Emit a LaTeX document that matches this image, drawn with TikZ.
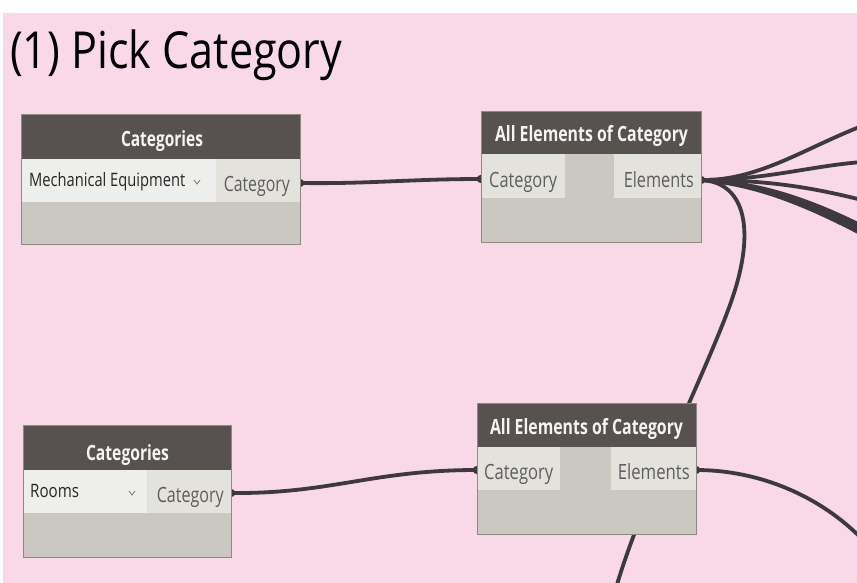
\documentclass[tikz,border=0pt]{standalone}
\usepackage{fontspec}
\setmainfont{Open Sans}
\usetikzlibrary{calc}

\definecolor{canvas}{HTML}{F9D8E8}
\definecolor{hdrfill}{HTML}{57524F}
\definecolor{bodyfill}{HTML}{CBC8C1}
\definecolor{dropfill}{HTML}{EEEEEC}
\definecolor{portfill}{HTML}{E4E2DC}
\definecolor{porttext}{HTML}{5E5E5E}
\definecolor{edgec}{HTML}{8E8984}
\definecolor{wirec}{HTML}{3D393C}
\definecolor{hdrtext}{HTML}{F4F4F2}

% stretch or squeeze a text to a given width, keeping its height
\newcommand\fitw[2]{\resizebox{#1}{\height}{#2}}

\pgfdeclarelayer{back}
\pgfdeclarelayer{wirelayer}
\pgfsetlayers{back,wirelayer,main}

\tikzset{
  part/.style={inner sep=0pt, outer sep=0pt, anchor=north west, draw=none},
  body/.style={part, fill=bodyfill},
  header/.style={part, fill=hdrfill},
  dropbox/.style={part, fill=dropfill},
  portbox/.style={part, fill=portfill},
  hdrlabel/.style={inner sep=0pt, anchor=base, text=hdrtext, font=\fontsize{21}{24}\selectfont\bfseries},
  droplabel/.style={inner sep=0pt, anchor=base west, text=black!85, font=\fontsize{18.5}{22}\selectfont},
  portlabel/.style={inner sep=0pt, text=porttext, font=\fontsize{21}{24}\selectfont},
  wire/.style={draw=wirec, line width=3.8pt, line cap=round},
  nub/.style={fill=wirec},
  chevron/.style={draw=black!55, line width=0.8pt},
  outline/.style={draw=edgec, line width=0.8pt}
}

\begin{document}
\begin{tikzpicture}[x=1pt, y=-1pt]
\useasboundingbox (0,0) rectangle (857,583);

\begin{pgfonlayer}{back}
  \fill[white] (0,0) rectangle (857,583);
  \fill[canvas] (3,13) rectangle (857,583);
\end{pgfonlayer}

% title
\node[inner sep=0pt, anchor=base west, font=\fontsize{51}{60}\selectfont] (title) at (10,69)
  {\fitw{332pt}{(1) Pick Category}};

% ---- Categories (Mechanical Equipment)
\node[body, minimum width=279pt, minimum height=130pt] (cat1) at (21,114) {};
\node[header, minimum width=279pt, minimum height=45pt] (cat1h) at (21,114) {};
\node[dropbox, minimum width=195pt, minimum height=43pt] (cat1d) at (21,159) {};
\node[portbox, minimum width=84pt, minimum height=43pt] (cat1p) at (216,159) {};
\draw[outline] (cat1.north west) rectangle (cat1.south east);
\draw[draw=black!12, line width=0.5pt] (cat1d.north east) -- (cat1d.south east);
\node[hdrlabel] (cat1t) at (162,147) {\fitw{82pt}{Categories}};
\node[droplabel] (cat1v) at (29,186) {\fitw{156pt}{Mechanical Equipment}};
\draw[chevron] (194,180) -- (197,184) -- (200,180);
\node[portlabel, anchor=base east] (cat1pl) at (290,192) {\fitw{66pt}{Category}};

% ---- All Elements of Category (upper)
\node[body, minimum width=220pt, minimum height=131pt] (aec1) at (481,111) {};
\node[header, minimum width=220pt, minimum height=43pt] (aec1h) at (481,111) {};
\node[portbox, minimum width=84pt, minimum height=44pt] (aec1c) at (481,154) {};
\node[portbox, minimum width=87pt, minimum height=44pt] (aec1e) at (614,154) {};
\draw[outline] (aec1.north west) rectangle (aec1.south east);
\node[hdrlabel] (aec1t) at (591.5,142) {\fitw{193pt}{All Elements of Category}};
\node[portlabel, anchor=base west] (aec1cl) at (489,187) {\fitw{68pt}{Category}};
\node[portlabel, anchor=base east] (aec1el) at (694,187) {\fitw{70pt}{Elements}};

% ---- Categories (Rooms)
\node[body, minimum width=208pt, minimum height=132pt] (cat2) at (23,425) {};
\node[header, minimum width=208pt, minimum height=45pt] (cat2h) at (23,425) {};
\node[dropbox, minimum width=124pt, minimum height=43pt] (cat2d) at (23,470) {};
\node[portbox, minimum width=84pt, minimum height=43pt] (cat2p) at (147,470) {};
\draw[outline] (cat2.north west) rectangle (cat2.south east);
\draw[draw=black!12, line width=0.5pt] (cat2d.north east) -- (cat2d.south east);
\node[hdrlabel] (cat2t) at (127.5,460) {\fitw{83pt}{Categories}};
\node[droplabel] (cat2v) at (30,497) {\fitw{49pt}{Rooms}};
\draw[chevron] (129,491) -- (132,495) -- (135,491);
\node[portlabel, anchor=base east] (cat2pl) at (224,502) {\fitw{67pt}{Category}};

% ---- All Elements of Category (lower)
\node[body, minimum width=219pt, minimum height=131pt] (aec2) at (477,403) {};
\node[header, minimum width=219pt, minimum height=44pt] (aec2h) at (477,403) {};
\node[portbox, minimum width=83pt, minimum height=43pt] (aec2c) at (477,447) {};
\node[portbox, minimum width=85pt, minimum height=43pt] (aec2e) at (611,447) {};
\draw[outline] (aec2.north west) rectangle (aec2.south east);
\node[hdrlabel] (aec2t) at (586.5,434) {\fitw{193pt}{All Elements of Category}};
\node[portlabel, anchor=base west] (aec2cl) at (484,479) {\fitw{69pt}{Category}};
\node[portlabel, anchor=base east] (aec2el) at (690,479) {\fitw{72pt}{Elements}};

% port pins
\coordinate (c1out) at ([yshift=-2.5pt]cat1p.east);
\coordinate (a1in)  at ([yshift=-3pt]aec1c.west);
\coordinate (a1out) at ([yshift=-4pt]aec1e.east);
\coordinate (c2out) at ([yshift=-1.5pt]cat2p.east);
\coordinate (a2in)  at ([yshift=-1.5pt]aec2c.west);
\coordinate (a2out) at ([yshift=-1.5pt]aec2e.east);

% free ends of wires leaving the view
\coordinate (f1) at (862,126);
\coordinate (f2) at (862,162);
\coordinate (f3) at (862,200);
\coordinate (f4) at (862,226);
\coordinate (f5) at (862,230);
\coordinate (f6) at (862,234);
\coordinate (fdown) at (614,595);
\coordinate (flow) at (864,541);

\begin{pgfonlayer}{wirelayer}
  % category wires
  \draw[wire] (c1out) .. controls +(70,1) and +(-70,0) .. (a1in);
  \draw[wire] (c2out) .. controls +(100,1) and +(-105,0) .. (a2in);
  % fan out of the upper Elements port
  \draw[wire] (a1out) .. controls +(57,1) and (805,148) .. (f1);
  \draw[wire] (a1out) .. controls +(65,0) and (810,166) .. (f2);
  \draw[wire] (a1out) .. controls +(65,0) and (810,187) .. (f3);
  \draw[wire] (a1out) .. controls +(57,2) and (810,200) .. (f4);
  \draw[wire] (a1out) .. controls +(57,3) and (809,203) .. (f5);
  \draw[wire] (a1out) .. controls +(56,4) and (808,206) .. (f6);
  % long wire running down behind the lower node
  \draw[wire] (a1out) .. controls +(42,2) and (755,225) .. (735,290)
                      .. controls (715,355) and (640,500) .. (fdown);
  % lower Elements port
  \draw[wire] (a2out) .. controls +(62,0) and (820,495) .. (flow);
  % pin nubs
  \foreach \p in {c1out,a1in,a1out,c2out,a2in,a2out}
    \fill[nub] (\p) circle (4.2pt);
\end{pgfonlayer}
\end{tikzpicture}
\end{document}
